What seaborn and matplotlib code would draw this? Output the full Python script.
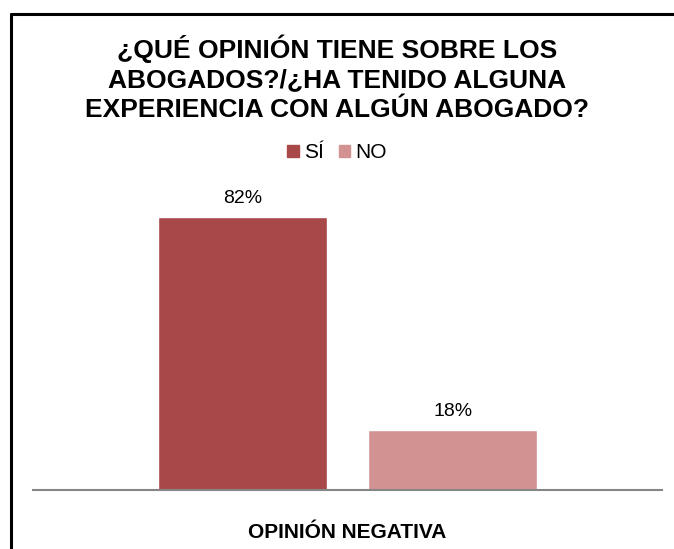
import matplotlib
matplotlib.use("Agg")
import matplotlib.pyplot as plt
from matplotlib.lines import Line2D
import seaborn as sns
import pandas as pd

categories = ["OPINIÓN NEGATIVA"]
responses = ["SÍ", "NO"]
values = [82, 18]
colors = ["#A94848", "#D39292"]
title = "¿QUÉ OPINIÓN TIENE SOBRE LOS\nABOGADOS?/¿HA TENIDO ALGUNA\nEXPERIENCIA CON ALGÚN ABOGADO?"

df = pd.DataFrame({"categoria": categories * len(responses),
                   "respuesta": responses,
                   "valor": values})

sns.set_theme(style="white")
plt.rcParams["font.family"] = ["Liberation Sans", "DejaVu Sans"]
plt.rcParams["text.color"] = "black"

fig = plt.figure(figsize=(6.74, 5.49), dpi=100)
ax = fig.add_axes([33 / 674, 1 - 490 / 549, 629 / 674, 300 / 549])

sns.barplot(data=df, x="categoria", y="valor", hue="respuesta",
            hue_order=responses, palette=colors, width=0.669, gap=0.197,
            saturation=1, ax=ax, legend=False)

ax.set_ylim(0, 90)
ax.set_xlim(-0.5, 0.5)
for s in ["top", "right", "left"]:
    ax.spines[s].set_visible(False)
ax.spines["bottom"].set_color("#868686")
ax.spines["bottom"].set_linewidth(1.5)
ax.set_yticks([])
ax.set_xlabel("")
ax.set_ylabel("")
ax.tick_params(axis="x", length=0, pad=24)
ax.set_xticks([0])
ax.set_xticklabels(categories, fontsize=15, fontweight="bold", color="black")

for cont in ax.containers:
    ax.bar_label(cont, labels=[f"{v:.0f}%" for v in cont.datavalues],
                 padding=7, fontsize=14, color="black")

fig.text(0.5, 1 - 78 / 549, title, ha="center", va="center",
         fontsize=19, fontweight="bold", linespacing=1.28, color="black")

handles = [plt.Rectangle((0, 0), 1, 1, color=c) for c in colors]
fig.legend(handles, responses, loc="center", bbox_to_anchor=(0.5, 1 - 153 / 549),
           ncol=2, frameon=False, fontsize=15, handlelength=0.55, handleheight=0.55,
           handletextpad=0.25, columnspacing=0.7, labelcolor="black")

# outer frame (left and top edges)
fig.add_artist(Line2D([11 / 674, 11 / 674], [0, 1 - 14 / 549], color="black", lw=2.2))
fig.add_artist(Line2D([11 / 674, 1], [1 - 14 / 549, 1 - 14 / 549], color="black", lw=2.2))

fig.savefig("out.png", dpi=100)
